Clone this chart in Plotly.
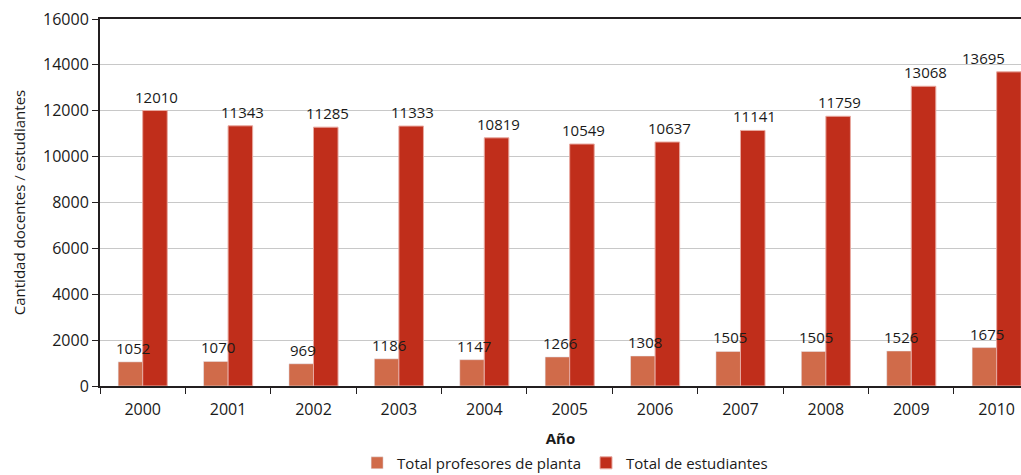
import plotly.graph_objects as go

years = ["2000", "2001", "2002", "2003", "2004", "2005", "2006", "2007", "2008", "2009", "2010"]
profesores = [1052, 1070, 969, 1186, 1147, 1266, 1308, 1505, 1505, 1526, 1675]
estudiantes = [12010, 11343, 11285, 11333, 10819, 10549, 10637, 11141, 11759, 13068, 13695]

FONT = "Open Sans"
LABEL_FONT = dict(size=15, color="#1A1A1A", family=FONT)

fig = go.Figure()
fig.add_trace(go.Bar(
    x=years, y=profesores, name="Total profesores de planta",
    marker=dict(color="#D06B4A"),
))
fig.add_trace(go.Bar(
    x=years, y=estudiantes, name="Total de estudiantes",
    marker=dict(color="#C02E1B", line=dict(color="#E8A9A0", width=1)),
))

# Value labels above each bar, drawn on top of both series.
# Category positions are given by index so they land on the category axis.
half_bar = 12
for i in range(len(years)):
    fig.add_annotation(x=i, y=profesores[i], text=str(profesores[i]),
                       xshift=-half_bar + 2, yshift=2, yanchor="bottom",
                       showarrow=False, font=LABEL_FONT)
    last = i == len(years) - 1
    fig.add_annotation(x=i, y=estudiantes[i], text=str(estudiantes[i]),
                       xanchor="right" if last else "center",
                       xshift=(10 if last else half_bar + 2), yshift=2, yanchor="bottom",
                       showarrow=False, font=LABEL_FONT)

fig.update_layout(
    width=1021, height=475,
    margin=dict(l=100, r=0, t=19, b=89, autoexpand=False),
    paper_bgcolor="white", plot_bgcolor="white",
    barmode="group", bargap=0.425, bargroupgap=0,
    font=dict(family=FONT, size=15, color="#1A1A1A"),
    showlegend=True,
    legend=dict(orientation="h", x=0.505, xanchor="center", y=-0.21, yanchor="middle",
                font=dict(size=15, color="#1A1A1A"), traceorder="normal"),
)
fig.update_xaxes(
    type="category", range=[-0.5, 10.285],
    showline=True, linecolor="#231F20", linewidth=2, mirror=True,
    ticks="outside", tickson="boundaries", ticklen=6, tickcolor="#231F20", tickwidth=1,
    tickfont=dict(size=16, color="#1A1A1A"), ticklabelstandoff=8,
    title=dict(text="<b>Año</b>", font=dict(size=15), standoff=14),
    showgrid=False, automargin=False,
)
fig.update_yaxes(
    range=[0, 16000], dtick=2000, tickformat="d",
    showline=True, linecolor="#231F20", linewidth=2,
    ticks="outside", ticklen=6, tickcolor="#231F20", tickwidth=1,
    tickfont=dict(size=16, color="#1A1A1A"),
    showgrid=True, gridcolor="#C8C8C8", gridwidth=1,
    zeroline=False, automargin=False,
    title=dict(text="Cantidad docentes / estudiantes", font=dict(size=15), standoff=14),
)

fig.write_html("out.html")
